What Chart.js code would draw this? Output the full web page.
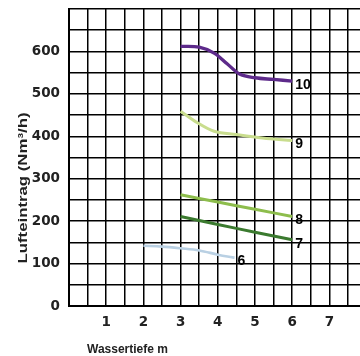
<!DOCTYPE html>
<html>
<head>
<meta charset="utf-8">
<script src="https://cdn.jsdelivr.net/npm/chart.js@4"></script>
<style>
  html, body { margin: 0; padding: 0; background: #fff; overflow: hidden; width: 360px; height: 356px; }
  #wrap { width: 380px; height: 356px; }
</style>
</head>
<body>
<div id="wrap"><canvas id="chart" width="380" height="356"></canvas></div>
<script>
/* ===== Lufteintrag vs Wassertiefe ===== */

// depth (m) per curve
const depth6 = [2.0, 2.5, 3.0, 3.5, 4.0, 4.3, 4.45];
const depth7 = [3.0, 4.0, 5.0, 6.0];
const depth8 = [3.0, 4.0, 5.0, 6.0];
const depth9 = [3.0, 3.45, 3.9, 4.5, 5.2, 6.0];
const depth10 = [3.0, 3.5, 3.9, 4.25, 4.6, 5.0, 5.5, 6.0];

// air input (Nm³/h)
const air6 = [142, 140, 136, 131, 121, 116, 114];
const air7 = [211, 192, 174, 156];
const air8 = [262, 245, 228, 211];
const air9 = [459, 432, 412, 404, 396, 390];
const air10 = [612, 610, 596, 571, 546, 538, 534, 530];

const curveNames = ['6', '7', '8', '9', '10'];
const curveColors = ['#b9d0e3', '#3b7a2f', '#8dbd4c', '#c9dd8e', '#5d2a8a'];
const curveWidths = [2.6, 3, 3, 3, 3.4];

const xTickLabels = [1, 2, 3, 4, 5, 6, 7];
const yTickLabels = [0, 100, 200, 300, 400, 500, 600];

const yTitle = 'Lufteintrag (Nm³/h)';
const xTitle = 'Wassertiefe m';

const pairs = (xs, ys) => xs.map((x, i) => ({ x, y: ys[i] }));
const series = [pairs(depth6, air6), pairs(depth7, air7), pairs(depth8, air8), pairs(depth9, air9), pairs(depth10, air10)];

const tickFont = { family: 'DejaVu Sans', weight: 'bold', size: 13.5 };

// kill the label overhang padding so the plot box sits where the layout says
function noOverhang(s) {
  s.paddingTop = 0;
  s.paddingBottom = 0;
  s.paddingLeft = 0;
  s.paddingRight = 0;
}

// curve numbers at the end of each line + axis titles
const labelPlugin = {
  id: 'labels',
  afterDatasetsDraw(chart) {
    const { ctx, scales: { x, y } } = chart;
    ctx.save();
    ctx.fillStyle = '#000';
    ctx.font = 'bold 14px "Liberation Sans", Arial, sans-serif';
    ctx.textAlign = 'left';
    ctx.textBaseline = 'middle';
    series.forEach((pts, i) => {
      const last = pts[pts.length - 1];
      ctx.fillText(curveNames[i], x.getPixelForValue(last.x) + 3, y.getPixelForValue(last.y) + 4);
    });

    // y title, rotated
    ctx.fillStyle = '#222';
    ctx.font = 'bold 13px "Liberation Sans", Arial, sans-serif';
    ctx.textAlign = 'center';
    ctx.save();
    ctx.translate(23, 188);
    ctx.rotate(-Math.PI / 2);
    const wy = ctx.measureText(yTitle).width;
    ctx.scale(151 / wy, 1);
    ctx.fillText(yTitle, 0, 0);
    ctx.restore();

    // x title
    ctx.font = 'bold 12px "Liberation Sans", Arial, sans-serif';
    ctx.textAlign = 'left';
    ctx.save();
    ctx.translate(87, 350);
    const wx = ctx.measureText(xTitle).width;
    ctx.scale(81 / wx, 1);
    ctx.fillText(xTitle, 0, 0);
    ctx.restore();
    ctx.restore();
  }
};

new Chart(document.getElementById('chart'), {
  type: 'line',
  data: {
    datasets: series.map((pts, i) => ({
      data: pts,
      borderColor: curveColors[i],
      borderWidth: curveWidths[i],
      pointRadius: 0,
      tension: 0.35,
      fill: false
    }))
  },
  options: {
    responsive: false,
    animation: false,
    layout: { padding: { left: 0, top: 9, right: 13.4, bottom: 0 } },
    plugins: { legend: { display: false }, tooltip: { enabled: false } },
    scales: {
      x: {
        type: 'linear',
        min: 0,
        max: 8,
        afterFit: s => { s.height = 50; noOverhang(s); },
        grid: { color: '#000', lineWidth: 1.5, drawTicks: false },
        border: { color: '#000', width: 2 },
        ticks: {
          stepSize: 0.5,
          autoSkip: false,
          maxRotation: 0,
          padding: 8,
          color: '#222',
          font: tickFont,
          callback: v => (xTickLabels.includes(v) ? String(v) : '')
        }
      },
      y: {
        min: 0,
        max: 700,
        afterFit: s => { s.width = 69; noOverhang(s); },
        grid: { color: '#000', lineWidth: 1.5, drawTicks: false },
        border: { color: '#000', width: 2 },
        ticks: {
          stepSize: 50,
          autoSkip: false,
          padding: 9,
          color: '#222',
          font: tickFont,
          callback: v => (yTickLabels.includes(v) ? String(v) : '')
        }
      }
    }
  },
  plugins: [labelPlugin]
});
</script>
</body>
</html>
